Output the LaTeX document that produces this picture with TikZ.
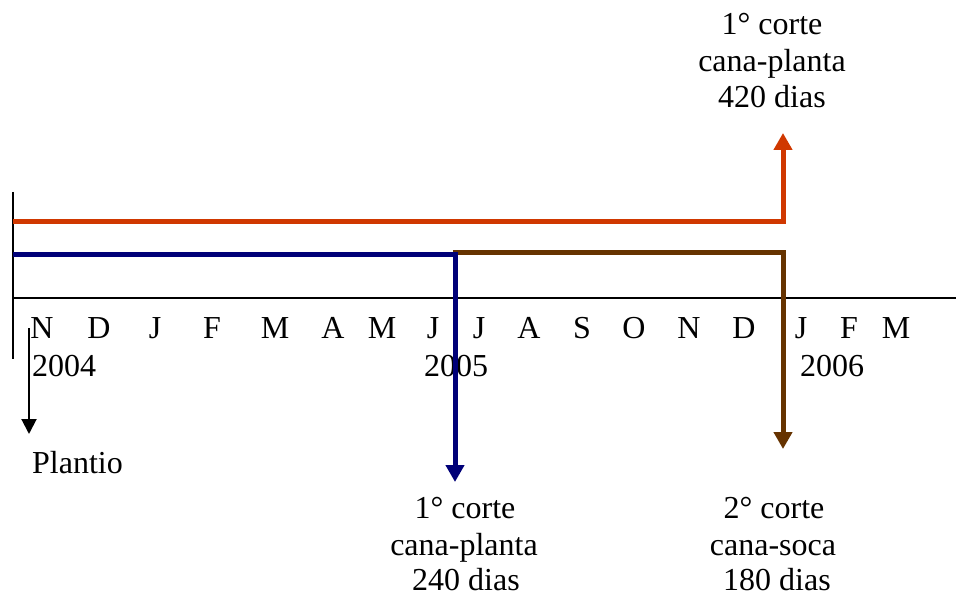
\documentclass[tikz,border=0pt]{standalone}
\usepackage{fontspec}
\setmainfont{Liberation Serif}
\usetikzlibrary{arrows.meta}
\definecolor{cred}{RGB}{208,56,0}
\definecolor{cblue}{RGB}{0,0,120}
\definecolor{cbrown}{RGB}{102,51,0}
\tikzset{
  lbl/.style={anchor=base, inner sep=0pt, font=\fontsize{32}{36}\selectfont},
  thickline/.style={line width=5pt},
  bigtip/.style={-{Triangle[width=18pt,length=17pt]}},
  smalltip/.style={-{Triangle[width=15pt,length=15pt]}},
}
\begin{document}
\begin{tikzpicture}[x=1pt,y=-1pt]
\useasboundingbox (0,0) rectangle (956,596);
% axes
\coordinate (vtop) at (13,192);
\coordinate (vbot) at (13,359);
\coordinate (axl) at (13,298);
\coordinate (axr) at (956,298);
\draw[line width=1.5pt] (vtop) -- (vbot);
\draw[line width=1.5pt] (axl) -- (axr);
% months
\foreach \m/\x [count=\i] in {N/42,D/99,J/155,F/212,M/275,A/333,M/382,J/433,J/479,A/529,S/582,O/634,N/689,D/744,J/801,F/849,M/896}
  \node[lbl] (m\i) at (\x,338) {\m};
% years
\node[lbl, anchor=base west] (y2004) at (32,376) {2004};
\node[lbl] (y2005) at (456,376) {2005};
\node[lbl] (y2006) at (832,376) {2006};
% red path
\coordinate (rs) at (13,222);
\coordinate (rc) at (783,222);
\coordinate (re) at (783,133);
\draw[cred, thickline, bigtip] (rs) -- (rc) -- (re);
% brown path
\coordinate (bs) at (453,253);
\coordinate (bc) at (783,253);
\coordinate (be) at (783,449);
\draw[cbrown, thickline, bigtip] (bs) -- (bc) -- (be);
% blue path
\coordinate (ns) at (13,255);
\coordinate (nc) at (455,255);
\coordinate (ne) at (455,482);
\draw[cblue, thickline, bigtip] (ns) -- (nc) -- (ne);
% plantio arrow
\coordinate (ps) at (29,328);
\coordinate (pe) at (29,434);
\draw[line width=2pt, smalltip] (ps) -- (pe);
\node[lbl, anchor=base west] (plantio) at (32,473) {Plantio};
% top label
\node[lbl] (t1) at (772,35) {1° corte};
\node[lbl] (t2) at (772,72) {cana-planta};
\node[lbl] (t3) at (772,108) {420 dias};
% bottom left label
\node[lbl] (l1) at (465,518) {1° corte};
\node[lbl] (l2) at (464,555) {cana-planta};
\node[lbl] (l3) at (466,590) {240 dias};
% bottom right label
\node[lbl] (r1) at (774,518) {2° corte};
\node[lbl] (r2) at (773,555) {cana-soca};
\node[lbl] (r3) at (777,590) {180 dias};
\end{tikzpicture}
\end{document}
